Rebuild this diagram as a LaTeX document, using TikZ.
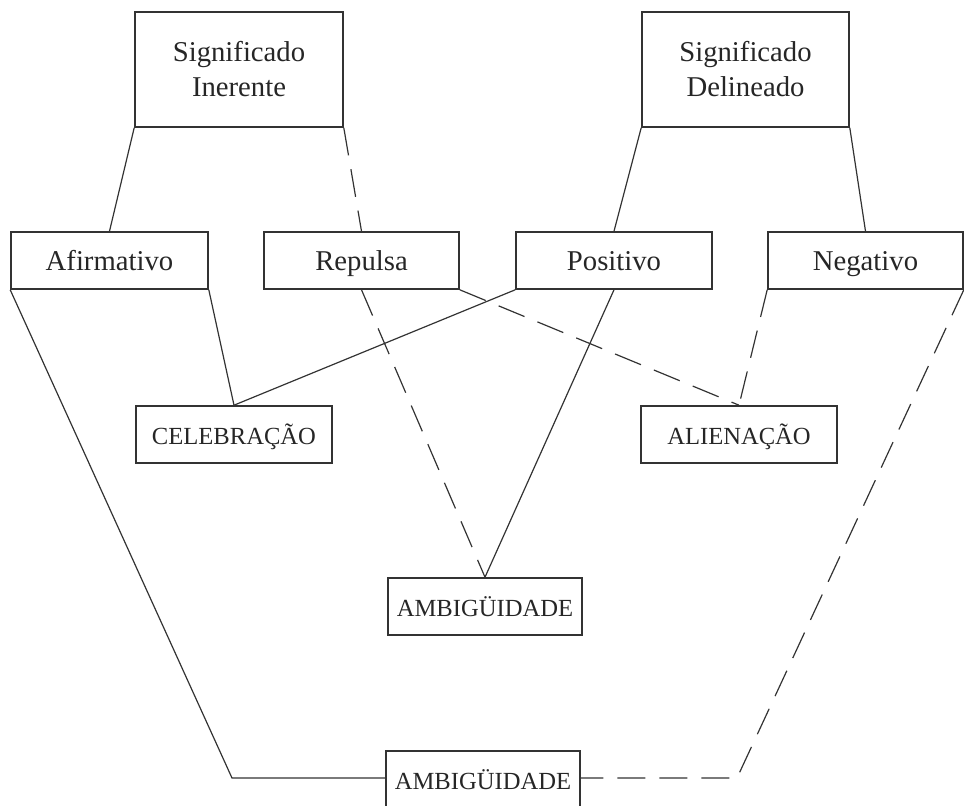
\documentclass[tikz,border=0pt]{standalone}
\usepackage{fontspec}
\setmainfont{Liberation Serif}
\begin{document}
\begin{tikzpicture}[x=1pt,y=-1pt,
  box/.style={draw=black!80, line width=1.6pt, rectangle, inner sep=0pt, text=black!85,
    font=\fontsize{28.7}{35}\selectfont, align=center, minimum height=57pt},
  onebox/.style={box, text height=22pt, text depth=3pt},
  capbox/.style={box, font=\fontsize{24.6}{30}\selectfont, text height=19pt, text depth=0pt},
  link/.style={draw=black!80, line width=1.2pt},
  dlink/.style={link, dash pattern=on 28pt off 14pt}]
\useasboundingbox (0,0) rectangle (964,806);
\clip (0,0) rectangle (964,806);
\node[box, minimum width=208pt, minimum height=115pt] (SI) at (239,69.5) {Significado\\Inerente};
\node[box, minimum width=207pt, minimum height=115pt] (SD) at (745.5,69.5) {Significado\\Delineado};
\node[onebox, minimum width=197pt] (Af) at (109.5,260.5) {Afirmativo};
\node[onebox, minimum width=195pt] (Re) at (361.5,260.5) {Repulsa};
\node[onebox, minimum width=196pt] (Po) at (614,260.5) {Positivo};
\node[onebox, minimum width=195pt] (Ne) at (865.5,260.5) {Negativo};
\node[capbox, minimum width=196pt] (Ce) at (234,434.5) {CELEBRAÇÃO};
\node[capbox, minimum width=196pt] (Al) at (739,434.5) {ALIENAÇÃO};
\node[capbox, minimum width=194pt] (Am1) at (485,606.5) {AMBIGÜIDADE};
\node[capbox, minimum width=194pt, minimum height=58pt] (Am2) at (483,780) {AMBIGÜIDADE};
\coordinate (cl) at (232,778);
\coordinate (cr) at (737,778);
\path[link] (SI.south west) -- (Af.north);
\path[dlink] (SI.south east) -- (Re.north);
\path[link] (SD.south west) -- (Po.north);
\path[link] (SD.south east) -- (Ne.north);
\path[link] (Af.south east) -- (Ce.north);
\path[link] (Po.south west) -- (Ce.north);
\path[dlink] (Re.south east) -- (Al.north);
\path[dlink] (Ne.south west) -- (Al.north);
\path[dlink] (Re.south) -- (Am1.north);
\path[link] (Po.south) -- (Am1.north);
\path[link] (Af.south west) -- (cl) -- (cl -| Am2.west);
\path[dlink] (Ne.south east) -- (cr) -- (cr -| Am2.east);
\end{tikzpicture}
\end{document}
